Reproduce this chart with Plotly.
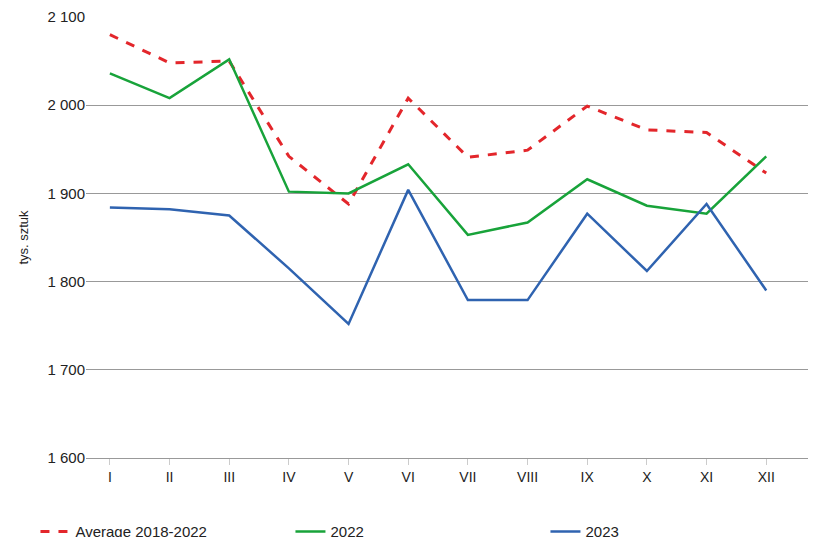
import plotly.graph_objects as go

months = ["I", "II", "III", "IV", "V", "VI", "VII", "VIII", "IX", "X", "XI", "XII"]
avg_2018_2022 = [2080, 2048, 2050, 1942, 1888, 2008, 1941, 1949, 1999, 1972, 1969, 1923]
y2022 = [2036, 2008, 2052, 1902, 1900, 1933, 1853, 1867, 1916, 1886, 1877, 1942]
y2023 = [1884, 1882, 1875, 1815, 1752, 1904, 1779, 1779, 1877, 1812, 1888, 1790]

fig = go.Figure()
fig.add_trace(go.Scatter(x=months, y=avg_2018_2022, mode="lines", name="Average 2018-2022",
                         line=dict(color="#e3262b", width=3, dash="dash")))
fig.add_trace(go.Scatter(x=months, y=y2022, mode="lines", name="2022",
                         line=dict(color="#18a33a", width=2.5)))
fig.add_trace(go.Scatter(x=months, y=y2023, mode="lines", name="2023",
                         line=dict(color="#2f63b0", width=2.5)))

tickvals = [1600, 1700, 1800, 1900, 2000, 2100]
fig.update_layout(
    width=820, height=537,
    margin=dict(l=78, r=20, t=9, b=87, autoexpand=False),
    plot_bgcolor="white", paper_bgcolor="white",
    font=dict(family="Liberation Sans, Arial", size=14, color="#222"),
    legend=dict(orientation="h", x=0.0, y=-0.13, xanchor="left", yanchor="top",
                font=dict(size=15), entrywidth=210, entrywidthmode="pixels"),
    showlegend=True,
)
fig.update_layout(legend_x=-0.07)
fig.update_xaxes(showgrid=False, showline=True, linecolor="#999", ticks="outside",
                 tickcolor="#ccc", ticklen=6, range=[-0.4, 11.7], tickfont=dict(size=14))
fig.update_yaxes(range=[1600, 2100], tickvals=tickvals,
                 ticktext=[f"{v:,}".replace(",", " ") for v in tickvals],
                 showgrid=True, gridcolor="#999", gridwidth=1, zeroline=False,
                 showline=False, title=dict(text="tys. sztuk", font=dict(size=13)),
                 tickfont=dict(size=15))
fig.write_html("out.html")
